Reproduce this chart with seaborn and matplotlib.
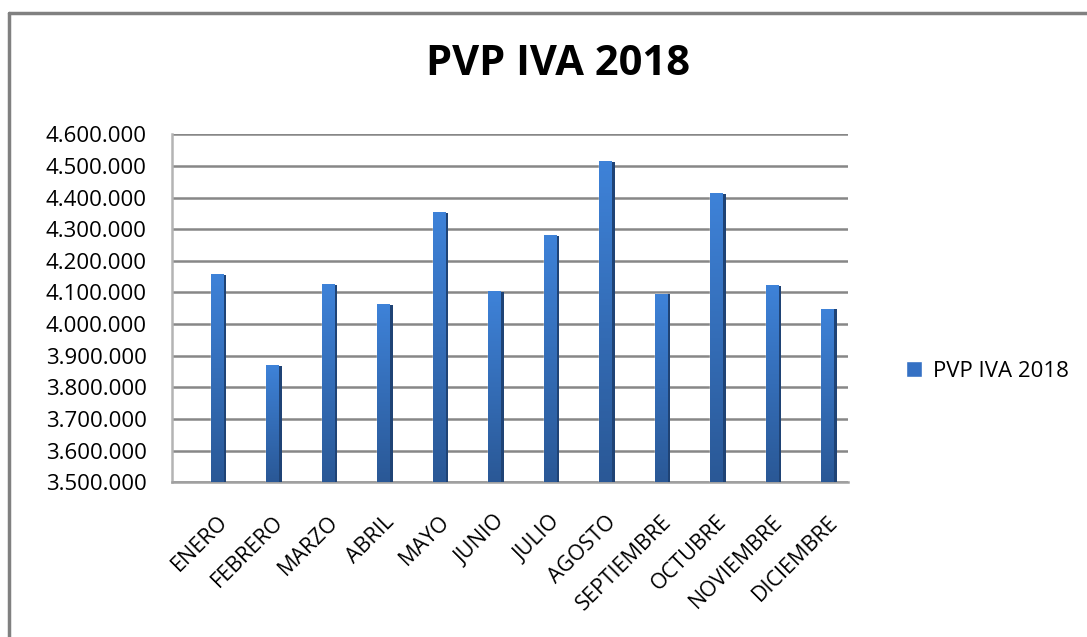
import matplotlib
matplotlib.use("Agg")
import matplotlib.pyplot as plt
import matplotlib.ticker as mticker
from matplotlib.patches import Rectangle
from matplotlib.lines import Line2D
from matplotlib.colors import LinearSegmentedColormap
import numpy as np
import seaborn as sns
import pandas as pd

# data
meses = ["ENERO", "FEBRERO", "MARZO", "ABRIL", "MAYO", "JUNIO", "JULIO",
         "AGOSTO", "SEPTIEMBRE", "OCTUBRE", "NOVIEMBRE", "DICIEMBRE"]
pvp_iva = [4155000, 3868000, 4125000, 4062000, 4352000, 4102000, 4280000,
           4513000, 4094000, 4413000, 4121000, 4047000]
serie = "PVP IVA 2018"
y_ticks = [3500000 + 100000 * i for i in range(12)]

df = pd.DataFrame({"mes": meses, "valor": pvp_iva})

sns.set_style("white")
plt.rcParams["font.family"] = ["Open Sans", "DejaVu Sans"]
plt.rcParams["text.color"] = "black"
plt.rcParams["xtick.color"] = "black"
plt.rcParams["ytick.color"] = "black"

fig = plt.figure(figsize=(10.87, 6.37), dpi=100)
ax = fig.add_axes([0.158, 0.243, 0.622, 0.546])

bar_color = "#3571c4"
sns.barplot(data=df, x="mes", y="valor", color=bar_color, width=0.22,
            saturation=1, ax=ax, label=serie, zorder=3)

# the 3d front row sits a bit to the right of the back wall
x_lim = (-0.81, len(meses) - 0.63)
ax.set_ylim(y_ticks[0], y_ticks[-1])
ax.set_xlim(*x_lim)
y_floor = ax.get_ylim()[0]

# excel-like shading: vertical gradient on the front face, dark side face
grad = LinearSegmentedColormap.from_list("g", ["#2a5896", "#3e82d8"])
for p in list(ax.patches):
    x0, w, top = p.get_x(), p.get_width(), p.get_y() + p.get_height()
    ax.imshow(np.linspace(0, 1, 100).reshape(-1, 1), cmap=grad, aspect="auto",
              origin="lower", extent=(x0, x0 + w, y_floor, top), zorder=3.5)
    ax.add_patch(Rectangle((x0 + w, y_floor), w * 0.28, top - y_floor,
                           color="#1f4375", zorder=3, lw=0))

ax.set_ylim(y_ticks[0], y_ticks[-1])
ax.set_xlim(*x_lim)
ax.set_aspect("auto")
ax.set_yticks(y_ticks)
ax.yaxis.set_major_formatter(mticker.FuncFormatter(lambda v, _: f"{int(v):,}".replace(",", ".")))
ax.grid(axis="y", color="#878787", linewidth=1.8, zorder=0)
ax.set_xlabel("")
ax.set_ylabel("")

for s in ["top", "right"]:
    ax.spines[s].set_visible(False)
ax.spines["left"].set_color("#b4b4b4")
ax.spines["left"].set_linewidth(1.8)
ax.spines["bottom"].set_color("#a0a0a0")
ax.spines["bottom"].set_linewidth(1.8)

ax.tick_params(axis="y", labelsize=16, length=6, color="#a0a0a0", width=1.2, pad=12)
ax.tick_params(axis="x", labelsize=15.5, length=0, pad=21)
# small floor ticks every half category, starting at the wall edge
ax.set_xticks(np.arange(x_lim[0], x_lim[1] + 0.01, 0.5), minor=True)
ax.tick_params(axis="x", which="minor", length=7, color="#a0a0a0", width=1.2)
plt.setp(ax.get_xticklabels(), rotation=45, ha="right", rotation_mode="anchor")

fig.text(0.513, 0.898, serie, ha="center", va="center", fontsize=30,
         fontweight="bold")

ax.legend(loc="center left", bbox_to_anchor=(1.057, 0.319), frameon=False,
          fontsize=16, handlelength=0.7, handleheight=0.7, handletextpad=0.5)

# chart area border (only top and left edge visible in the crop)
fig.add_artist(Line2D([9 / 1087, 9 / 1087], [1 - 13 / 637, 0], color="#808080", lw=2.5,
                      transform=fig.transFigure))
fig.add_artist(Line2D([9 / 1087, 1], [1 - 13 / 637, 1 - 13 / 637], color="#808080", lw=2.5,
                      transform=fig.transFigure))

fig.savefig("out.png", dpi=100)
